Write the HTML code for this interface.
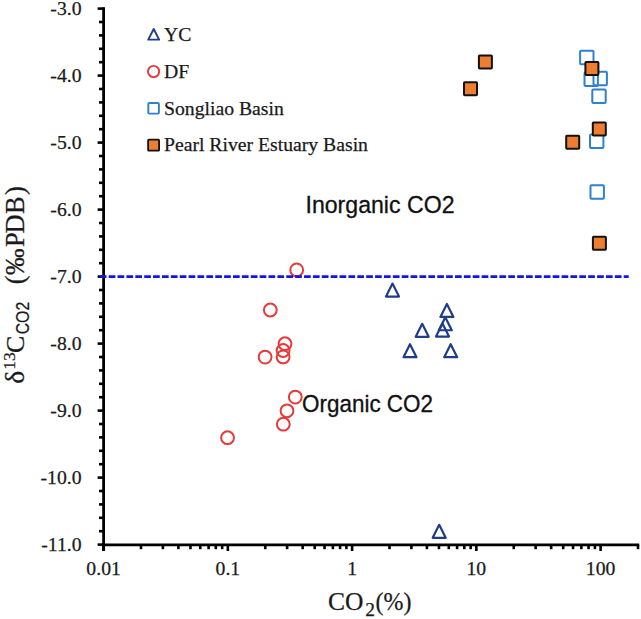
<!DOCTYPE html>
<html><head><meta charset="utf-8"><style>
html,body{margin:0;padding:0;background:#fff;}
body{width:641px;height:619px;overflow:hidden;}
svg{display:block;}
.serif{font-family:"Liberation Serif",serif;}
.sans{font-family:"Liberation Sans",sans-serif;}
</style></head><body>
<svg width="641" height="619" viewBox="0 0 641 619">
<rect width="641" height="619" fill="#fff"/>
<g class="serif" font-size="19.7" fill="#1a1a1a" stroke="#1a1a1a" stroke-width="0.25">
<text x="81.5" y="15.40" text-anchor="end">-3.0</text>
<text x="81.5" y="82.40" text-anchor="end">-4.0</text>
<text x="81.5" y="149.40" text-anchor="end">-5.0</text>
<text x="81.5" y="216.40" text-anchor="end">-6.0</text>
<text x="81.5" y="283.40" text-anchor="end">-7.0</text>
<text x="81.5" y="350.40" text-anchor="end">-8.0</text>
<text x="81.5" y="417.40" text-anchor="end">-9.0</text>
<text x="81.5" y="484.40" text-anchor="end">-10.0</text>
<text x="81.5" y="551.40" text-anchor="end">-11.0</text>
<text x="103.60" y="575.2" text-anchor="middle">0.01</text>
<text x="227.85" y="575.2" text-anchor="middle">0.1</text>
<text x="352.10" y="575.2" text-anchor="middle">1</text>
<text x="476.35" y="575.2" text-anchor="middle">10</text>
<text x="600.60" y="575.2" text-anchor="middle">100</text>
</g>
<g stroke="#000" stroke-width="2.6">
<line x1="97.60" y1="8.60" x2="103.60" y2="8.60"/>
<line x1="99.00" y1="22.00" x2="103.60" y2="22.00"/>
<line x1="99.00" y1="35.40" x2="103.60" y2="35.40"/>
<line x1="99.00" y1="48.80" x2="103.60" y2="48.80"/>
<line x1="99.00" y1="62.20" x2="103.60" y2="62.20"/>
<line x1="97.60" y1="75.60" x2="103.60" y2="75.60"/>
<line x1="99.00" y1="89.00" x2="103.60" y2="89.00"/>
<line x1="99.00" y1="102.40" x2="103.60" y2="102.40"/>
<line x1="99.00" y1="115.80" x2="103.60" y2="115.80"/>
<line x1="99.00" y1="129.20" x2="103.60" y2="129.20"/>
<line x1="97.60" y1="142.60" x2="103.60" y2="142.60"/>
<line x1="99.00" y1="156.00" x2="103.60" y2="156.00"/>
<line x1="99.00" y1="169.40" x2="103.60" y2="169.40"/>
<line x1="99.00" y1="182.80" x2="103.60" y2="182.80"/>
<line x1="99.00" y1="196.20" x2="103.60" y2="196.20"/>
<line x1="97.60" y1="209.60" x2="103.60" y2="209.60"/>
<line x1="99.00" y1="223.00" x2="103.60" y2="223.00"/>
<line x1="99.00" y1="236.40" x2="103.60" y2="236.40"/>
<line x1="99.00" y1="249.80" x2="103.60" y2="249.80"/>
<line x1="99.00" y1="263.20" x2="103.60" y2="263.20"/>
<line x1="97.60" y1="276.60" x2="103.60" y2="276.60"/>
<line x1="99.00" y1="290.00" x2="103.60" y2="290.00"/>
<line x1="99.00" y1="303.40" x2="103.60" y2="303.40"/>
<line x1="99.00" y1="316.80" x2="103.60" y2="316.80"/>
<line x1="99.00" y1="330.20" x2="103.60" y2="330.20"/>
<line x1="97.60" y1="343.60" x2="103.60" y2="343.60"/>
<line x1="99.00" y1="357.00" x2="103.60" y2="357.00"/>
<line x1="99.00" y1="370.40" x2="103.60" y2="370.40"/>
<line x1="99.00" y1="383.80" x2="103.60" y2="383.80"/>
<line x1="99.00" y1="397.20" x2="103.60" y2="397.20"/>
<line x1="97.60" y1="410.60" x2="103.60" y2="410.60"/>
<line x1="99.00" y1="424.00" x2="103.60" y2="424.00"/>
<line x1="99.00" y1="437.40" x2="103.60" y2="437.40"/>
<line x1="99.00" y1="450.80" x2="103.60" y2="450.80"/>
<line x1="99.00" y1="464.20" x2="103.60" y2="464.20"/>
<line x1="97.60" y1="477.60" x2="103.60" y2="477.60"/>
<line x1="99.00" y1="491.00" x2="103.60" y2="491.00"/>
<line x1="99.00" y1="504.40" x2="103.60" y2="504.40"/>
<line x1="99.00" y1="517.80" x2="103.60" y2="517.80"/>
<line x1="99.00" y1="531.20" x2="103.60" y2="531.20"/>
<line x1="97.60" y1="544.60" x2="103.60" y2="544.60"/>
<line x1="103.60" y1="544.80" x2="103.60" y2="551.00"/>
<line x1="141.00" y1="544.80" x2="141.00" y2="549.20"/>
<line x1="162.88" y1="544.80" x2="162.88" y2="549.20"/>
<line x1="178.41" y1="544.80" x2="178.41" y2="549.20"/>
<line x1="190.45" y1="544.80" x2="190.45" y2="549.20"/>
<line x1="200.29" y1="544.80" x2="200.29" y2="549.20"/>
<line x1="208.60" y1="544.80" x2="208.60" y2="549.20"/>
<line x1="215.81" y1="544.80" x2="215.81" y2="549.20"/>
<line x1="222.16" y1="544.80" x2="222.16" y2="549.20"/>
<line x1="227.85" y1="544.80" x2="227.85" y2="551.00"/>
<line x1="265.25" y1="544.80" x2="265.25" y2="549.20"/>
<line x1="287.13" y1="544.80" x2="287.13" y2="549.20"/>
<line x1="302.66" y1="544.80" x2="302.66" y2="549.20"/>
<line x1="314.70" y1="544.80" x2="314.70" y2="549.20"/>
<line x1="324.54" y1="544.80" x2="324.54" y2="549.20"/>
<line x1="332.85" y1="544.80" x2="332.85" y2="549.20"/>
<line x1="340.06" y1="544.80" x2="340.06" y2="549.20"/>
<line x1="346.41" y1="544.80" x2="346.41" y2="549.20"/>
<line x1="352.10" y1="544.80" x2="352.10" y2="551.00"/>
<line x1="389.50" y1="544.80" x2="389.50" y2="549.20"/>
<line x1="411.38" y1="544.80" x2="411.38" y2="549.20"/>
<line x1="426.91" y1="544.80" x2="426.91" y2="549.20"/>
<line x1="438.95" y1="544.80" x2="438.95" y2="549.20"/>
<line x1="448.79" y1="544.80" x2="448.79" y2="549.20"/>
<line x1="457.10" y1="544.80" x2="457.10" y2="549.20"/>
<line x1="464.31" y1="544.80" x2="464.31" y2="549.20"/>
<line x1="470.66" y1="544.80" x2="470.66" y2="549.20"/>
<line x1="476.35" y1="544.80" x2="476.35" y2="551.00"/>
<line x1="513.75" y1="544.80" x2="513.75" y2="549.20"/>
<line x1="535.63" y1="544.80" x2="535.63" y2="549.20"/>
<line x1="551.16" y1="544.80" x2="551.16" y2="549.20"/>
<line x1="563.20" y1="544.80" x2="563.20" y2="549.20"/>
<line x1="573.04" y1="544.80" x2="573.04" y2="549.20"/>
<line x1="581.35" y1="544.80" x2="581.35" y2="549.20"/>
<line x1="588.56" y1="544.80" x2="588.56" y2="549.20"/>
<line x1="594.91" y1="544.80" x2="594.91" y2="549.20"/>
<line x1="600.60" y1="544.80" x2="600.60" y2="551.0"/>
<line x1="638.00" y1="544.80" x2="638.00" y2="549.2"/>
</g>
<g stroke="#000" stroke-width="2.8">
<line x1="103.60" y1="7.2" x2="103.60" y2="551.0"/>
<line x1="102.20" y1="544.80" x2="639.20" y2="544.80"/>
</g>
<g>
<path d="M392.50 283.55 L399.00 296.55 L386.00 296.55 Z" fill="none" stroke="#1F3C88" stroke-width="2.2" stroke-linejoin="round"/>
<path d="M446.90 303.90 L453.40 316.90 L440.40 316.90 Z" fill="none" stroke="#1F3C88" stroke-width="2.2" stroke-linejoin="round"/>
<path d="M445.30 317.25 L451.80 330.25 L438.80 330.25 Z" fill="none" stroke="#1F3C88" stroke-width="2.2" stroke-linejoin="round"/>
<path d="M442.50 323.60 L449.00 336.60 L436.00 336.60 Z" fill="none" stroke="#1F3C88" stroke-width="2.2" stroke-linejoin="round"/>
<path d="M422.20 323.80 L428.70 336.80 L415.70 336.80 Z" fill="none" stroke="#1F3C88" stroke-width="2.2" stroke-linejoin="round"/>
<path d="M410.00 344.15 L416.50 357.15 L403.50 357.15 Z" fill="none" stroke="#1F3C88" stroke-width="2.2" stroke-linejoin="round"/>
<path d="M450.70 344.15 L457.20 357.15 L444.20 357.15 Z" fill="none" stroke="#1F3C88" stroke-width="2.2" stroke-linejoin="round"/>
<path d="M439.20 524.80 L445.70 537.80 L432.70 537.80 Z" fill="none" stroke="#1F3C88" stroke-width="2.2" stroke-linejoin="round"/>
<circle cx="296.70" cy="269.90" r="6.4" fill="none" stroke="#E8393B" stroke-width="2.0"/>
<circle cx="270.30" cy="310.00" r="6.4" fill="none" stroke="#E8393B" stroke-width="2.0"/>
<circle cx="285.00" cy="343.70" r="6.4" fill="none" stroke="#E8393B" stroke-width="2.0"/>
<circle cx="283.10" cy="350.50" r="6.4" fill="none" stroke="#E8393B" stroke-width="2.0"/>
<circle cx="283.10" cy="356.90" r="6.4" fill="none" stroke="#E8393B" stroke-width="2.0"/>
<circle cx="265.10" cy="357.10" r="6.4" fill="none" stroke="#E8393B" stroke-width="2.0"/>
<circle cx="295.30" cy="397.10" r="6.4" fill="none" stroke="#E8393B" stroke-width="2.0"/>
<circle cx="287.00" cy="410.80" r="6.4" fill="none" stroke="#E8393B" stroke-width="2.0"/>
<circle cx="283.30" cy="424.20" r="6.4" fill="none" stroke="#E8393B" stroke-width="2.0"/>
<circle cx="227.55" cy="437.70" r="6.4" fill="none" stroke="#E8393B" stroke-width="2.0"/>
<rect x="580.10" y="50.80" width="13.4" height="13.4" rx="1" fill="none" stroke="#2E80D0" stroke-width="2.0"/>
<rect x="584.50" y="72.60" width="13.4" height="13.4" rx="1" fill="none" stroke="#2E80D0" stroke-width="2.0"/>
<rect x="593.50" y="71.80" width="13.4" height="13.4" rx="1" fill="none" stroke="#2E80D0" stroke-width="2.0"/>
<rect x="592.30" y="89.50" width="13.4" height="13.4" rx="1" fill="none" stroke="#2E80D0" stroke-width="2.0"/>
<rect x="590.00" y="134.50" width="13.4" height="13.4" rx="1" fill="none" stroke="#2E80D0" stroke-width="2.0"/>
<rect x="590.50" y="185.30" width="13.4" height="13.4" rx="1" fill="none" stroke="#2E80D0" stroke-width="2.0"/>
<rect x="478.90" y="55.50" width="13.0" height="13.0" rx="0.7" fill="#ED7D31" stroke="#111" stroke-width="2.0"/>
<rect x="464.00" y="82.20" width="13.0" height="13.0" rx="0.7" fill="#ED7D31" stroke="#111" stroke-width="2.0"/>
<rect x="585.40" y="62.00" width="13.0" height="13.0" rx="0.7" fill="#ED7D31" stroke="#111" stroke-width="2.0"/>
<rect x="592.80" y="122.50" width="13.0" height="13.0" rx="0.7" fill="#ED7D31" stroke="#111" stroke-width="2.0"/>
<rect x="566.20" y="135.80" width="13.0" height="13.0" rx="0.7" fill="#ED7D31" stroke="#111" stroke-width="2.0"/>
<rect x="592.90" y="236.70" width="13.0" height="13.0" rx="0.7" fill="#ED7D31" stroke="#111" stroke-width="2.0"/>
</g>
<g stroke="#1414E6" stroke-width="2.6">
<line x1="99.8" y1="276.6" x2="628.7" y2="276.6" stroke-dasharray="6.7 2.18"/>
</g>
<g class="serif" font-size="19.7" fill="#1a1a1a" stroke="#1a1a1a" stroke-width="0.25">
<path d="M153.70 28.95 L159.15 39.65 L148.25 39.65 Z" fill="none" stroke="#1F3C88" stroke-width="1.9" stroke-linejoin="round"/>
<circle cx="153.60" cy="71.50" r="5.6" fill="none" stroke="#E8393B" stroke-width="1.9"/>
<rect x="148.30" y="103.00" width="10.6" height="10.6" rx="1" fill="none" stroke="#2E80D0" stroke-width="1.9"/>
<rect x="148.10" y="139.70" width="11.0" height="11.0" rx="0.7" fill="#ED7D31" stroke="#111" stroke-width="1.8"/>
<text x="164" y="40.6">YC</text>
<text x="164" y="77.7">DF</text>
<text x="164" y="114.9">Songliao Basin</text>
<text x="164" y="151.4">Pearl River Estuary Basin</text>
</g>
<g class="sans" font-size="23.7" fill="#111" stroke="#111" stroke-width="0.3">
<text x="305.5" y="212.6" textLength="149" lengthAdjust="spacingAndGlyphs">Inorganic CO2</text>
<text x="302" y="411.8" textLength="131" lengthAdjust="spacingAndGlyphs">Organic CO2</text>
</g>
<g fill="#1a1a1a" stroke="#1a1a1a" stroke-width="0.25">
<text class="serif" x="328" y="610.3" font-size="25.5">CO</text><text class="serif" x="365.3" y="616.2" font-size="19.5">2</text><text class="serif" x="375.6" y="610.3" font-size="25.8" textLength="35.9" lengthAdjust="spacingAndGlyphs">(%)</text>
</g>
<g transform="translate(23.5,383.5) rotate(-90)" fill="#1a1a1a" stroke="#1a1a1a" stroke-width="0.25" class="serif">
<text class="serif" x="-0.30" y="0" font-size="27.5">δ</text>
<text class="serif" x="13.80" y="-8.3" font-size="17.5">13</text>
<text class="serif" x="30.60" y="0" font-size="26">C</text>
<text class="sans" x="49.20" y="5.8" font-size="17.5" textLength="32.5" lengthAdjust="spacingAndGlyphs">CO2</text>
<text class="serif" x="99.20" y="0" font-size="26.5">(</text>
<text class="serif" x="108.60" y="0" font-size="26.5">‰</text>
<text class="serif" x="136.40" y="0" font-size="26.5">P</text>
<text class="serif" x="150.10" y="0" font-size="26.5">D</text>
<text class="serif" x="169.50" y="0" font-size="26.5">B</text>
<text class="serif" x="188.50" y="0" font-size="26.5">)</text>
</g>
</svg>
</body></html>
